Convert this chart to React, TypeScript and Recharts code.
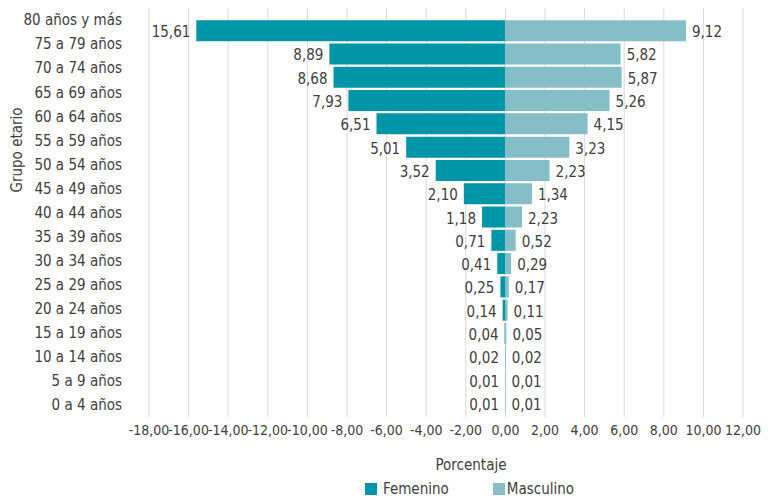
import { BarChart, Bar, XAxis, YAxis, CartesianGrid, LabelList, Legend } from "recharts";

const groups = [
  "80 años y más",
  "75 a 79 años",
  "70 a 74 años",
  "65 a 69 años",
  "60 a 64 años",
  "55 a 59 años",
  "50 a 54 años",
  "45 a 49 años",
  "40 a 44 años",
  "35 a 39 años",
  "30 a 34 años",
  "25 a 29 años",
  "20 a 24 años",
  "15 a 19 años",
  "10 a 14 años",
  "5 a 9 años",
  "0 a 4 años",
];

const femenino = [15.61, 8.89, 8.68, 7.93, 6.51, 5.01, 3.52, 2.1, 1.18, 0.71, 0.41, 0.25, 0.14, 0.04, 0.02, 0.01, 0.01];
const masculino = [9.12, 5.82, 5.87, 5.26, 4.15, 3.23, 2.23, 1.34, 0.84, 0.52, 0.29, 0.17, 0.11, 0.05, 0.02, 0.01, 0.01];

// label texts as printed on the original (40-44 male reads 2,23)
const femeninoLabels = ["15,61", "8,89", "8,68", "7,93", "6,51", "5,01", "3,52", "2,10", "1,18", "0,71", "0,41", "0,25", "0,14", "0,04", "0,02", "0,01", "0,01"];
const masculinoLabels = ["9,12", "5,82", "5,87", "5,26", "4,15", "3,23", "2,23", "1,34", "2,23", "0,52", "0,29", "0,17", "0,11", "0,05", "0,02", "0,01", "0,01"];

const xTicks = [-18, -16, -14, -12, -10, -8, -6, -4, -2, 0, 2, 4, 6, 8, 10, 12];

const data = groups.map((group, i) => ({
  group,
  femenino: -femenino[i],
  masculino: masculino[i],
  fLabel: femeninoLabels[i],
  mLabel: masculinoLabels[i],
}));

const FONT = '"DejaVu Sans Condensed", "Liberation Sans Narrow", sans-serif';
const TEXT = "#404040";
const FEM = "#0096a7";
const MAS = "#86bec8";
const FS = 15;

const fmt = (v: number) => v.toFixed(2).replace(".", ",");

const leftLabel = (props: any) => {
  const { x, y, width, height, value } = props;
  const left = Math.min(Number(x), Number(x) + Number(width));
  return (
    <text x={left - 6} y={Number(y) + Number(height) / 2 + 2} textAnchor="end" dominantBaseline="middle" fontSize={FS} fill={TEXT} fontFamily={FONT}>
      {value}
    </text>
  );
};

const rightLabel = (props: any) => {
  const { x, y, width, height, value } = props;
  const right = Math.max(Number(x), Number(x) + Number(width));
  return (
    <text x={right + 6} y={Number(y) + Number(height) / 2 + 2} textAnchor="start" dominantBaseline="middle" fontSize={FS} fill={TEXT} fontFamily={FONT}>
      {value}
    </text>
  );
};

const renderLegend = () => (
  <div style={{ display: "flex", justifyContent: "center", height: 22, fontFamily: FONT, fontSize: FS, color: TEXT, paddingLeft: 196 }}>
    <span style={{ display: "flex", alignItems: "center", marginRight: 44 }}>
      <span style={{ width: 12, height: 12, background: FEM, marginRight: 6, display: "inline-block" }} />
      Femenino
    </span>
    <span style={{ display: "flex", alignItems: "center" }}>
      <span style={{ width: 12, height: 12, background: MAS, marginRight: 2, display: "inline-block" }} />
      Masculino
    </span>
  </div>
);

export default function App() {
  return (
    <div style={{ position: "absolute", left: 0, top: 0, width: 768, height: 500, background: "#fff" }}>
      <BarChart
        width={768}
        height={500}
        data={data}
        layout="vertical"
        stackOffset="sign"
        margin={{ top: 8, right: 25, bottom: 0, left: 0 }}
        barCategoryGap="5%"
      >
        <CartesianGrid horizontal={false} stroke="#d9d9d9" />
        <XAxis
          type="number"
          domain={[-18, 12]}
          ticks={xTicks}
          interval={0}
          tickFormatter={fmt}
          axisLine={false}
          tickLine={false}
          height={61}
          tick={{ fontSize: 14, fill: TEXT, fontFamily: FONT }}
          label={{
            content: (p: any) => {
              const vb = p.viewBox || {};
              return (
                <text x={vb.x + vb.width / 2 + 25} y={vb.y + 48} textAnchor="middle" dominantBaseline="middle" fontSize={FS} fill={TEXT} fontFamily={FONT}>
                  Porcentaje
                </text>
              );
            },
          }}
        />
        <YAxis type="category" dataKey="group" hide width={0} padding={{ top: 11, bottom: 2 }} />
        <YAxis
          yAxisId="labels"
          type="category"
          dataKey="group"
          width={149}
          axisLine={false}
          tickLine={false}
          tickMargin={21}
          interval={0}
          tick={{ fontSize: FS, fill: TEXT, fontFamily: FONT }}
          label={{
            content: () => (
              <text x={17} y={150} transform="rotate(-90 17 150)" textAnchor="middle" dominantBaseline="middle" fontSize={FS} fill={TEXT} fontFamily={FONT}>
                Grupo etario
              </text>
            ),
          }}
        />
        <Legend verticalAlign="bottom" content={renderLegend} />
        <Bar dataKey="femenino" name="Femenino" stackId="a" fill={FEM} isAnimationActive={false}>
          <LabelList dataKey="fLabel" content={leftLabel} />
        </Bar>
        <Bar dataKey="masculino" name="Masculino" stackId="a" fill={MAS} isAnimationActive={false}>
          <LabelList dataKey="mLabel" content={rightLabel} />
        </Bar>
      </BarChart>
    </div>
  );
}
